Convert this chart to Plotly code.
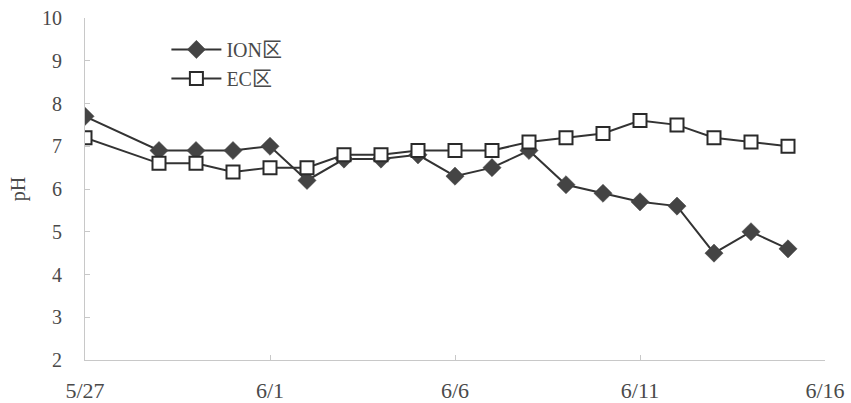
import plotly.graph_objects as go

# Sampling dates (no reading on 5/28)
dates = ["2020-05-27", "2020-05-29", "2020-05-30", "2020-05-31", "2020-06-01",
         "2020-06-02", "2020-06-03", "2020-06-04", "2020-06-05", "2020-06-06",
         "2020-06-07", "2020-06-08", "2020-06-09", "2020-06-10", "2020-06-11",
         "2020-06-12", "2020-06-13", "2020-06-14", "2020-06-15"]
ph_ion = [7.7, 6.9, 6.9, 6.9, 7.0, 6.2, 6.7, 6.7, 6.8, 6.3,
          6.5, 6.9, 6.1, 5.9, 5.7, 5.6, 4.5, 5.0, 4.6]
ph_ec = [7.2, 6.6, 6.6, 6.4, 6.5, 6.5, 6.8, 6.8, 6.9, 6.9,
         6.9, 7.1, 7.2, 7.3, 7.6, 7.5, 7.2, 7.1, 7.0]
tick_dates = ["2020-05-27", "2020-06-01", "2020-06-06", "2020-06-11", "2020-06-16"]
tick_text = ["5/27", "6/1", "6/6", "6/11", "6/16"]

serif = "Liberation Serif, Noto Sans CJK SC, serif"
text_color = "#4a4a4a"

fig = go.Figure()
fig.add_trace(go.Scatter(
    x=dates, y=ph_ion, name="ION区", mode="lines+markers",
    line=dict(color="#333333", width=2),
    marker=dict(symbol="diamond", size=14, color="#444444",
                line=dict(color="#444444", width=0.5)),
))
fig.add_trace(go.Scatter(
    x=dates, y=ph_ec, name="EC区", mode="lines+markers",
    line=dict(color="#333333", width=2),
    marker=dict(symbol="square", size=13, color="white",
                line=dict(color="#2a2a2a", width=2)),
))

fig.update_layout(
    width=851, height=403,
    margin=dict(l=85, r=26, t=18, b=43),
    paper_bgcolor="white", plot_bgcolor="white",
    font=dict(family=serif, size=20, color=text_color),
    showlegend=True,
    legend=dict(x=0.11, y=0.965, xanchor="left", yanchor="top",
                bgcolor="rgba(0,0,0,0)", font=dict(size=20, color=text_color),
                tracegroupgap=9, itemwidth=50),
    xaxis=dict(
        type="date", range=["2020-05-27", "2020-06-16"],
        tickvals=tick_dates, ticktext=tick_text,
        tickfont=dict(size=22),
        showgrid=False, zeroline=False,
        showline=True, linecolor="#c8c8c8", linewidth=1,
        ticks="inside", ticklen=5, tickcolor="#c8c8c8",
        ticklabelstandoff=11, automargin=False,
    ),
    yaxis=dict(
        range=[2, 10], dtick=1,
        showgrid=False, zeroline=False,
        showline=True, linecolor="#c8c8c8", linewidth=1,
        ticks="inside", ticklen=5, tickcolor="#c8c8c8",
        ticklabelstandoff=18, automargin=False,
        title=dict(text="pH", font=dict(size=20, color=text_color), standoff=11),
    ),
)

fig.write_html("out.html")
